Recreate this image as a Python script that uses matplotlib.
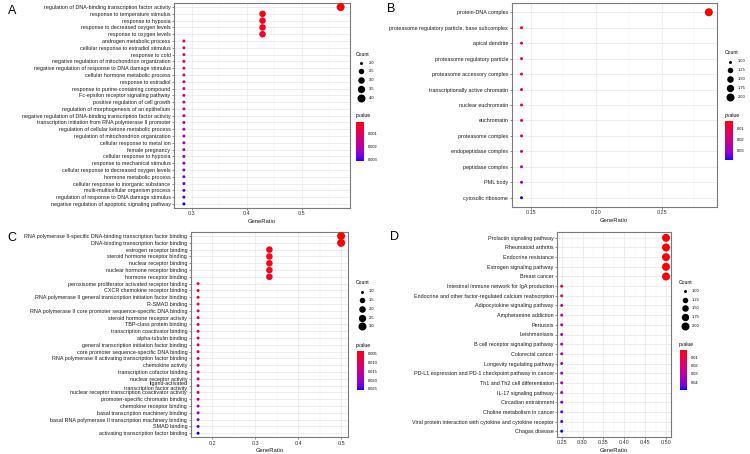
import numpy as np
import matplotlib
matplotlib.use("Agg")
import matplotlib.pyplot as plt
from matplotlib.colors import ListedColormap, Normalize
from matplotlib.cm import ScalarMappable

plt.rcParams['font.family'] = ['Liberation Sans', 'DejaVu Sans']

W, H = 750, 454

# ---------------- data ----------------
# A: GO biological process
a_terms = [
    "regulation of DNA-binding transcription factor activity",
    "response to temperature stimulus",
    "response to hypoxia",
    "response to decreased oxygen levels",
    "response to oxygen levels",
    "androgen metabolic process",
    "cellular response to estradiol stimulus",
    "response to cold",
    "negative regulation of mitochondrion organization",
    "negative regulation of response to DNA damage stimulus",
    "cellular hormone metabolic process",
    "response to estradiol",
    "response to purine-containing compound",
    "Fc-epsilon receptor signaling pathway",
    "positive regulation of cell growth",
    "regulation of morphogenesis of an epithelium",
    "negative regulation of DNA-binding transcription factor activity",
    "transcription initiation from RNA polymerase II promoter",
    "regulation of cellular ketone metabolic process",
    "regulation of mitochondrion organization",
    "cellular response to metal ion",
    "female pregnancy",
    "cellular response to hypoxia",
    "response to mechanical stimulus",
    "cellular response to decreased oxygen levels",
    "hormone metabolic process",
    "cellular response to inorganic substance",
    "multi-multicellular organism process",
    "regulation of response to DNA damage stimulus",
    "negative regulation of apoptotic signaling pathway",
]
a_count = [4, 3, 3, 3, 3, 2, 2, 2, 2, 2, 2, 2, 2, 2, 2,
           2, 2, 2, 2, 2, 2, 2, 2, 2, 2, 2, 2, 2, 2, 2]
a_ratio = [0.571, 0.429, 0.429, 0.429, 0.429, 0.286, 0.286, 0.286, 0.286, 0.286,
           0.286, 0.286, 0.286, 0.286, 0.286, 0.286, 0.286, 0.286, 0.286, 0.286,
           0.286, 0.286, 0.286, 0.286, 0.286, 0.286, 0.286, 0.286, 0.286, 0.286]
a_pval = [0.0001, 0.0002, 0.0003, 0.0003, 0.0004, 0.0006, 0.0006, 0.0007, 0.0008, 0.0009,
          0.0011, 0.0012, 0.0013, 0.0014, 0.0015, 0.0016, 0.0017, 0.0018, 0.0019, 0.0020,
          0.0021, 0.0022, 0.0023, 0.0024, 0.0026, 0.0027, 0.0028, 0.0029, 0.0030, 0.0031]

# B: GO cellular component
b_terms = [
    "protein-DNA complex",
    "proteasome regulatory particle, base subcomplex",
    "apical dendrite",
    "proteasome regulatory particle",
    "proteasome accessory complex",
    "transcriptionally active chromatin",
    "nuclear euchromatin",
    "euchromatin",
    "proteasome complex",
    "endopeptidase complex",
    "peptidase complex",
    "PML body",
    "cytosolic ribosome",
]
b_count = [2, 1, 1, 1, 1, 1, 1, 1, 1, 1, 1, 1, 1]
b_ratio = [0.286, 0.143, 0.143, 0.143, 0.143, 0.143, 0.143,
           0.143, 0.143, 0.143, 0.143, 0.143, 0.143]
b_pval = [0.003, 0.006, 0.007, 0.007, 0.008, 0.009, 0.010,
          0.011, 0.018, 0.019, 0.026, 0.030, 0.039]

# C: GO molecular function
c_terms = [
    "RNA polymerase II-specific DNA-binding transcription factor binding",
    "DNA-binding transcription factor binding",
    "estrogen receptor binding",
    "steroid hormone receptor binding",
    "nuclear receptor binding",
    "nuclear hormone receptor binding",
    "hormone receptor binding",
    "peroxisome proliferator activated receptor binding",
    "CXCR chemokine receptor binding",
    "RNA polymerase II general transcription initiation factor binding",
    "R-SMAD binding",
    "RNA polymerase II core promoter sequence-specific DNA binding",
    "steroid hormone receptor activity",
    "TBP-class protein binding",
    "transcription coactivator binding",
    "alpha-tubulin binding",
    "general transcription initiation factor binding",
    "core promoter sequence-specific DNA binding",
    "RNA polymerase II activating transcription factor binding",
    "chemokine activity",
    "transcription cofactor binding",
    "nuclear receptor activity",
    "ligand-activated\ntranscription factor activity",
    "nuclear receptor transcription coactivator activity",
    "promoter-specific chromatin binding",
    "chemokine receptor binding",
    "basal transcription machinery binding",
    "basal RNA polymerase II transcription machinery binding",
    "SMAD binding",
    "activating transcription factor binding",
]
c_count = [3, 3, 2, 2, 2, 2, 2, 1, 1, 1, 1, 1, 1, 1, 1,
           1, 1, 1, 1, 1, 1, 1, 1, 1, 1, 1, 1, 1, 1, 1]
c_ratio = [0.500, 0.500, 0.333, 0.333, 0.333, 0.333, 0.333, 0.167, 0.167, 0.167,
           0.167, 0.167, 0.167, 0.167, 0.167, 0.167, 0.167, 0.167, 0.167, 0.167,
           0.167, 0.167, 0.167, 0.167, 0.167, 0.167, 0.167, 0.167, 0.167, 0.167]
c_pval = [0.0032, 0.0035, 0.0038, 0.0040, 0.0042, 0.0045, 0.0048, 0.0055, 0.0060, 0.0065,
          0.0068, 0.0072, 0.0076, 0.0080, 0.0085, 0.0090, 0.0110, 0.0115, 0.0120, 0.0130,
          0.0135, 0.0140, 0.0145, 0.0150, 0.0165, 0.0190, 0.0200, 0.0210, 0.0240, 0.0256]

# D: KEGG pathways
d_terms = [
    "Prolactin signaling pathway",
    "Rheumatoid arthritis",
    "Endocrine resistance",
    "Estrogen signaling pathway",
    "Breast cancer",
    "Intestinal immune network for IgA production",
    "Endocrine and other factor-regulated calcium reabsorption",
    "Adipocytokine signaling pathway",
    "Amphetamine addiction",
    "Pertussis",
    "Leishmaniasis",
    "B cell receptor signaling pathway",
    "Colorectal cancer",
    "Longevity regulating pathway",
    "PD-L1 expression and PD-1 checkpoint pathway in cancer",
    "Th1 and Th2 cell differentiation",
    "IL-17 signaling pathway",
    "Circadian entrainment",
    "Choline metabolism in cancer",
    "Viral protein interaction with cytokine and cytokine receptor",
    "Chagas disease",
]
d_count = [2, 2, 2, 2, 2, 1, 1, 1, 1, 1, 1, 1, 1, 1, 1, 1, 1, 1, 1, 1, 1]
d_ratio = [0.50, 0.50, 0.50, 0.50, 0.50, 0.25, 0.25, 0.25, 0.25, 0.25, 0.25,
           0.25, 0.25, 0.25, 0.25, 0.25, 0.25, 0.25, 0.25, 0.25, 0.25]
d_pval = [0.0011, 0.0012, 0.0013, 0.0014, 0.0015, 0.0140, 0.0150, 0.0240, 0.0250, 0.0260,
          0.0270, 0.0290, 0.0320, 0.0330, 0.0340, 0.0360, 0.0370, 0.0420, 0.0440, 0.0460,
          0.0488]

# legend breaks
a_size_breaks = [2.0, 2.5, 3.0, 3.5, 4.0]
b_size_breaks = [1.00, 1.25, 1.50, 1.75, 2.00]
c_size_breaks = [1.0, 1.5, 2.0, 2.5, 3.0]
d_size_breaks = [1.00, 1.25, 1.50, 1.75, 2.00]
a_p_breaks = [0.001, 0.002, 0.003]
b_p_breaks = [0.01, 0.02, 0.03]
c_p_breaks = [0.005, 0.010, 0.015, 0.020, 0.025]
d_p_breaks = [0.01, 0.02, 0.03, 0.04]


# ---------------- red -> blue gradient interpolated in Lab (like ggplot) ----------------
WHITE = np.array([0.95047, 1.0, 1.08883])
M = np.array([[0.4124, 0.3576, 0.1805], [0.2126, 0.7152, 0.0722], [0.0193, 0.1192, 0.9505]])


def rgb_to_lab(rgb):
    c = np.where(rgb <= 0.04045, rgb / 12.92, ((rgb + 0.055) / 1.055) ** 2.4)
    t = (M @ c) / WHITE
    f = np.where(t > (6 / 29) ** 3, np.cbrt(t), t / (3 * (6 / 29) ** 2) + 4 / 29)
    return np.array([116 * f[1] - 16, 500 * (f[0] - f[1]), 200 * (f[1] - f[2])])


def lab_to_rgb(lab):
    fy = (lab[0] + 16) / 116
    f = np.array([fy + lab[1] / 500, fy, fy - lab[2] / 200])
    t = np.where(f > 6 / 29, f ** 3, 3 * (6 / 29) ** 2 * (f - 4 / 29)) * WHITE
    c = np.linalg.solve(M, t)
    c = np.clip(c, 0, 1)
    rgb = np.where(c <= 0.0031308, 12.92 * c, 1.055 * c ** (1 / 2.4) - 0.055)
    return np.clip(rgb, 0, 1)


lab_lo = rgb_to_lab(np.array([1.0, 0.0, 0.0]))
lab_hi = rgb_to_lab(np.array([0.0, 0.0, 1.0]))
cmap = ListedColormap([lab_to_rgb(lab_lo + (lab_hi - lab_lo) * k) for k in np.linspace(0, 1, 256)])


def px_rect(x0, y0, x1, y1):
    return [x0 / W, 1 - y1 / H, (x1 - x0) / W, (y1 - y0) / H]


def dot_size(c, cmin, cmax):
    # ggplot scale_size(range=c(3, 8)) -> diameter in px, then points^2
    d_px = 3 + 5 * np.sqrt((np.asarray(c, float) - cmin) / (cmax - cmin))
    return (d_px * 72 / 100) ** 2


fig = plt.figure(figsize=(W / 100, H / 100), dpi=100)
ov = fig.add_axes([0, 0, 1, 1], zorder=5)
ov.set_xlim(0, W)
ov.set_ylim(H, 0)
ov.axis('off')


def draw_panel(rect, terms, ratio, count, pval, xlim, xticks, xlabels, minors,
               size_breaks, p_breaks, p_fmt, leg_x, leg_y, key_gap, fs):
    ax = fig.add_axes(px_rect(*rect))
    n = len(terms)
    y = np.arange(n, 0, -1)
    cmin, cmax = min(count), max(count)
    norm = Normalize(vmin=min(pval), vmax=max(pval))
    ax.scatter(ratio, y, s=dot_size(count, cmin, cmax), c=pval, cmap=cmap, norm=norm,
               linewidths=0, zorder=3)
    ax.set_xlim(*xlim)
    ax.set_ylim(0.4, n + 0.6)
    ax.set_yticks(y)
    ax.set_yticklabels(terms, fontsize=fs, color='#1a1a1a', linespacing=0.9)
    ax.set_xticks(xticks)
    ax.set_xticklabels(xlabels, fontsize=fs, color='#333333')
    ax.set_xticks(minors, minor=True)
    ax.tick_params(axis='both', which='major', length=1.5, width=0.4, color='#333333', pad=1)
    ax.tick_params(axis='x', which='minor', length=0)
    ax.grid(True, which='major', color='#e6e6e6', lw=0.5, zorder=0)
    ax.grid(True, which='minor', axis='x', color='#f0f0f0', lw=0.3, zorder=0)
    ax.set_axisbelow(True)
    for sp in ax.spines.values():
        sp.set_color('#7a7a7a')
        sp.set_linewidth(0.8)
    ax.set_xlabel('GeneRatio', fontsize=fs + 0.4, labelpad=1.5, color='#1a1a1a')

    # size legend
    ov.text(leg_x, leg_y, 'Count', fontsize=fs - 0.2, va='center', ha='left')
    for k, b in enumerate(size_breaks):
        ky = leg_y + 8.5 + k * key_gap
        ov.scatter([leg_x + 5.5], [ky], s=dot_size([b], size_breaks[0], size_breaks[-1]),
                   color='black', linewidths=0)
        ov.text(leg_x + 13, ky, p_fmt[0].format(b), fontsize=fs - 1.0, va='center', ha='left')

    # colour legend
    ov.text(leg_x, leg_y + 62, 'pvalue', fontsize=fs - 0.2, va='center', ha='left')
    cax = fig.add_axes(px_rect(leg_x + 0.5, leg_y + 67.5, leg_x + 8, leg_y + 107))
    cb = fig.colorbar(ScalarMappable(norm=norm, cmap=cmap), cax=cax)
    cb.outline.set_visible(False)
    cax.invert_yaxis()
    cb.set_ticks(p_breaks)
    cb.set_ticklabels([p_fmt[1].format(v) for v in p_breaks])
    cax.tick_params(labelsize=fs - 1.0, length=1.5, width=0.4, color='white', pad=1.5)
    return ax


FS = 3.85

draw_panel((174, 3, 350, 208), a_terms, a_ratio, a_count, a_pval,
           (0.268, 0.588), [0.3, 0.4, 0.5], ['0.3', '0.4', '0.5'], [0.35, 0.45, 0.55],
           a_size_breaks, a_p_breaks, ('{:.1f}', '{:.3f}'), 355.5, 54, 8.9, FS)

draw_panel((511.7, 3, 716.7, 207), b_terms, b_ratio, b_count, b_pval,
           (0.1355, 0.292), [0.15, 0.20, 0.25], ['0.15', '0.20', '0.25'], [0.175, 0.225, 0.275],
           b_size_breaks, b_p_breaks, ('{:.2f}', '{:.2f}'), 724.5, 53, 8.9, FS)

draw_panel((190.7, 232, 348, 437.3), c_terms, c_ratio, c_count, c_pval,
           (0.1498, 0.516), [0.2, 0.3, 0.4, 0.5], ['0.2', '0.3', '0.4', '0.5'],
           [0.15, 0.25, 0.35, 0.45],
           c_size_breaks, c_p_breaks, ('{:.1f}', '{:.3f}'), 356, 283, 8.7, FS)

draw_panel((557.3, 232, 671, 437), d_terms, d_ratio, d_count, d_pval,
           (0.2395, 0.512), [0.25, 0.30, 0.35, 0.40, 0.45, 0.50],
           ['0.25', '0.30', '0.35', '0.40', '0.45', '0.50'],
           [0.275, 0.325, 0.375, 0.425, 0.475],
           d_size_breaks, d_p_breaks, ('{:.2f}', '{:.2f}'), 679, 282.5, 8.7, FS)

# panel letters
for letter, lx, ly in [('A', 8, 11), ('B', 387, 9), ('C', 7, 238), ('D', 390, 237)]:
    ov.text(lx, ly, letter, fontsize=9, va='center', ha='left')

fig.savefig('out.png', dpi=100)
